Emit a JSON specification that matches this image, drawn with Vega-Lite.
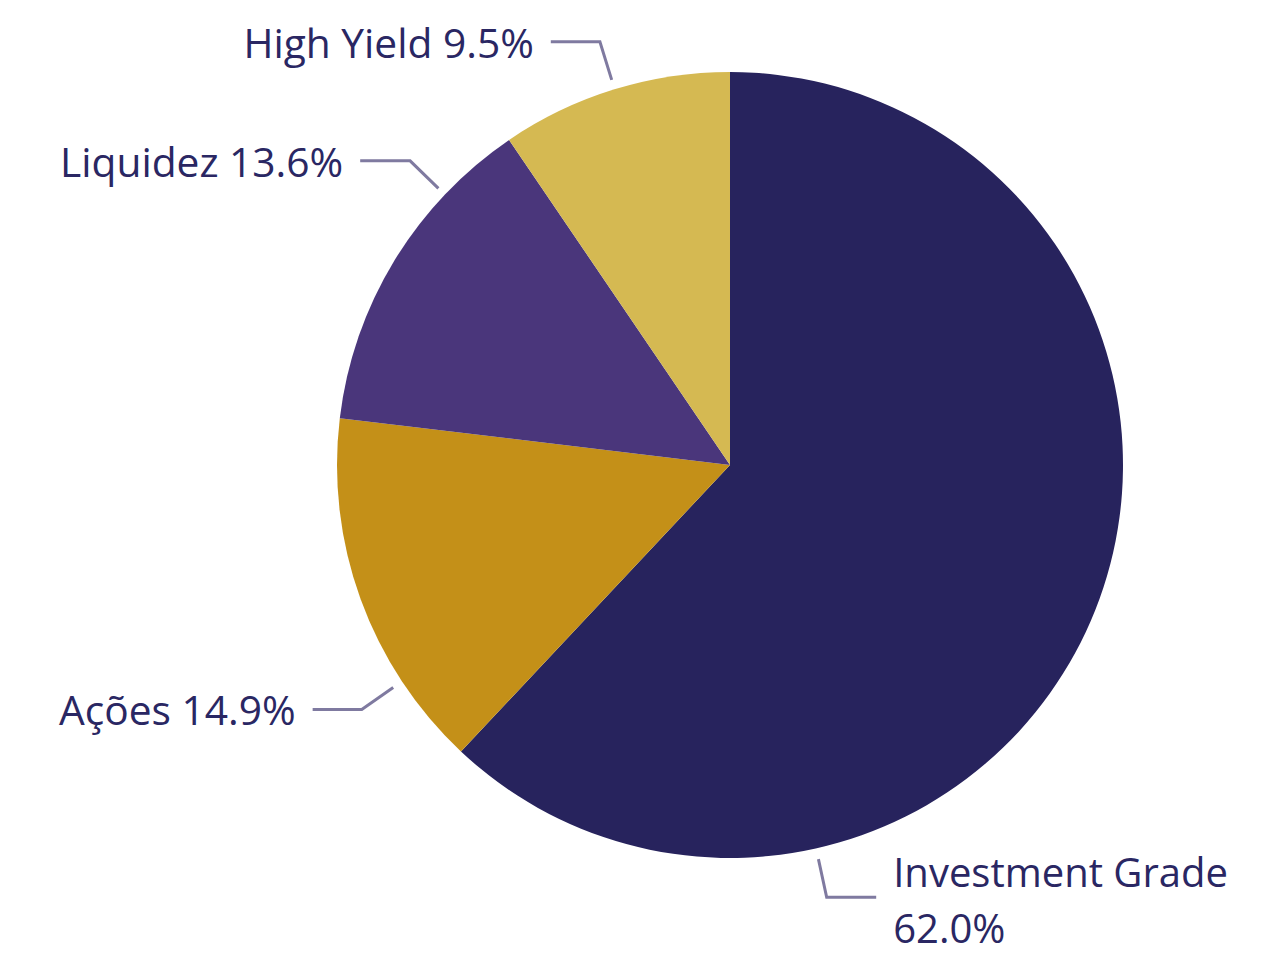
{
  "$schema": "https://vega.github.io/schema/vega-lite/v6.json",
  "width": 1100,
  "height": 900,
  "autosize": {"type": "none"},
  "padding": {"left": 180, "top": 15, "right": 1, "bottom": 50},
  "background": "#ffffff",
  "config": {"view": {"stroke": null}},
  "datasets": {
    "fatias": [
      {"classe": "Investment Grade", "valor": 62.0, "ordem": 1, "rotulo": "Investment Grade\n62.0%", "lado": "dir"},
      {"classe": "Ações", "valor": 14.9, "ordem": 2, "rotulo": "Ações 14.9%", "lado": "esq"},
      {"classe": "Liquidez", "valor": 13.6, "ordem": 3, "rotulo": "Liquidez 13.6%", "lado": "esq"},
      {"classe": "High Yield", "valor": 9.5, "ordem": 4, "rotulo": "High Yield 9.5%", "lado": "esq"}
    ],
    "guias": [
      {"classe": "High Yield", "ponto": 1, "x": -0.301, "y": 0.980},
      {"classe": "High Yield", "ponto": 2, "x": -0.331, "y": 1.077},
      {"classe": "High Yield", "ponto": 3, "x": -0.456, "y": 1.077},
      {"classe": "Liquidez", "ponto": 1, "x": -0.742, "y": 0.704},
      {"classe": "Liquidez", "ponto": 2, "x": -0.814, "y": 0.774},
      {"classe": "Liquidez", "ponto": 3, "x": -0.941, "y": 0.774},
      {"classe": "Ações", "ponto": 1, "x": -0.857, "y": -0.566},
      {"classe": "Ações", "ponto": 2, "x": -0.937, "y": -0.622},
      {"classe": "Ações", "ponto": 3, "x": -1.062, "y": -0.622},
      {"classe": "Investment Grade", "ponto": 1, "x": 0.225, "y": -1.003},
      {"classe": "Investment Grade", "ponto": 2, "x": 0.246, "y": -1.100},
      {"classe": "Investment Grade", "ponto": 3, "x": 0.372, "y": -1.100}
    ]
  },
  "layer": [
    {
      "data": {"name": "fatias"},
      "mark": {"type": "arc", "outerRadius": 393},
      "encoding": {
        "theta": {"field": "valor", "type": "quantitative", "stack": true},
        "order": {"field": "ordem", "type": "quantitative"},
        "color": {
          "field": "classe",
          "type": "nominal",
          "scale": {
            "domain": ["Investment Grade", "Ações", "Liquidez", "High Yield"],
            "range": ["#27235d", "#c49018", "#4a367b", "#d5b952"]
          },
          "legend": null
        }
      }
    },
    {
      "data": {"name": "guias"},
      "mark": {"type": "line", "color": "#7f7aa0", "strokeWidth": 3, "strokeJoin": "miter"},
      "encoding": {
        "x": {"field": "x", "type": "quantitative", "scale": {"domain": [-1.3995, 1.3995], "nice": false, "zero": false}, "axis": null},
        "y": {"field": "y", "type": "quantitative", "scale": {"domain": [-1.145, 1.145], "nice": false, "zero": false}, "axis": null},
        "detail": {"field": "classe", "type": "nominal"},
        "order": {"field": "ponto", "type": "quantitative"}
      }
    },
    {
      "data": {"name": "guias"},
      "transform": [
        {"filter": "datum.ponto == 3"},
        {"lookup": "classe", "from": {"data": {"name": "fatias"}, "key": "classe", "fields": ["rotulo", "lado"]}},
        {"filter": "datum.lado == 'esq'"}
      ],
      "mark": {"type": "text", "align": "right", "baseline": "alphabetic", "dx": -17, "dy": 16, "font": "Open Sans", "fontSize": 40.7, "color": "#2a2763"},
      "encoding": {
        "x": {"field": "x", "type": "quantitative"},
        "y": {"field": "y", "type": "quantitative"},
        "text": {"field": "rotulo"}
      }
    },
    {
      "data": {"name": "guias"},
      "transform": [
        {"filter": "datum.ponto == 3"},
        {"lookup": "classe", "from": {"data": {"name": "fatias"}, "key": "classe", "fields": ["rotulo", "lado"]}},
        {"filter": "datum.lado == 'dir'"}
      ],
      "mark": {"type": "text", "align": "left", "baseline": "alphabetic", "dx": 17, "dy": -10, "lineBreak": "\n", "lineHeight": 56, "font": "Open Sans", "fontSize": 40, "color": "#2a2763"},
      "encoding": {
        "x": {"field": "x", "type": "quantitative"},
        "y": {"field": "y", "type": "quantitative"},
        "text": {"field": "rotulo"}
      }
    }
  ]
}
